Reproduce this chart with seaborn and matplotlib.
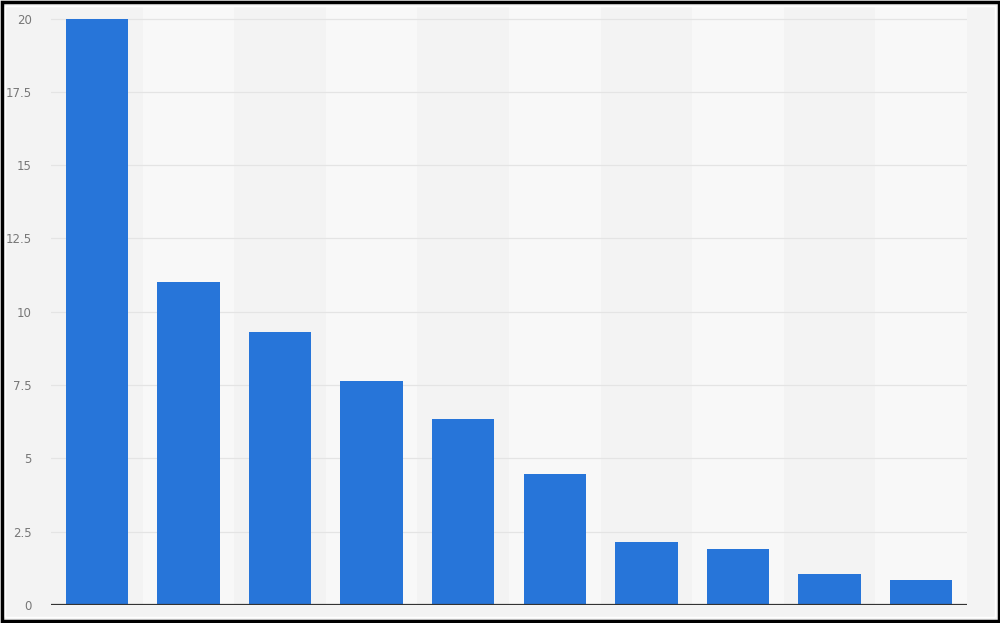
import matplotlib
matplotlib.use('Agg')

import matplotlib.pyplot as plt
import matplotlib.patches as mpatches
import seaborn as sns
import pandas as pd

# data (x labels are not shown there)
categories = ['1', '2', '3', '4', '5', '6', '7', '8', '9', '10']
values = [20.0, 11.0, 9.3, 7.65, 6.35, 4.45, 2.15, 1.9, 1.05, 0.85]
yticks = [0, 2.5, 5, 7.5, 10, 12.5, 15, 17.5, 20]
ytick_labels = ['0', '2.5', '5', '7.5', '10', '12.5', '15', '17.5', '20']

df = pd.DataFrame({'cat': categories, 'val': values})

sns.set_theme(style='white')
plt.rcParams['font.family'] = ['DejaVu Sans']

fig = plt.figure(figsize=(10, 6.23), dpi=100)
fig.patch.set_facecolor('#f3f3f3')
ax = fig.add_axes([0.051, 0.029, 0.916, 0.96])
ax.set_facecolor('#f3f3f3')

# alternating column bands
for i in range(len(categories)):
    if i % 2 == 1:
        ax.axvspan(i - 0.5, i + 0.5, color='#f8f8f8', zorder=0, lw=0)

sns.barplot(data=df, x='cat', y='val', color='#2775d9', width=0.68,
            saturation=1, linewidth=0, ax=ax, zorder=3)

ax.set_xlim(-0.5, len(categories) - 0.5)
ax.set_ylim(0, 20.4)
ax.set_yticks(yticks)
ax.set_yticklabels(ytick_labels)
for y in yticks[1:]:
    ax.axhline(y, color='#e4e4e4', lw=0.9, zorder=1)
ax.axhline(0, color='#333333', lw=1.6, zorder=4)

ax.set_xticks([])
ax.set_xlabel('')
ax.set_ylabel('')
ax.tick_params(axis='y', length=0, pad=14, labelsize=8.5, labelcolor='#777777')
for s in ax.spines.values():
    s.set_visible(False)

# image frame
fig.patches.append(mpatches.Rectangle((0.0015, 0.0025), 0.997, 0.995,
                                      transform=fig.transFigure, fill=False,
                                      edgecolor='black', lw=2.5, zorder=10))
fig.patches.append(mpatches.Rectangle((0.005, 0.009), 0.99, 0.982,
                                      transform=fig.transFigure, fill=False,
                                      edgecolor='white', lw=1, zorder=10))

plt.savefig('out.png', dpi=100, facecolor=fig.get_facecolor())
